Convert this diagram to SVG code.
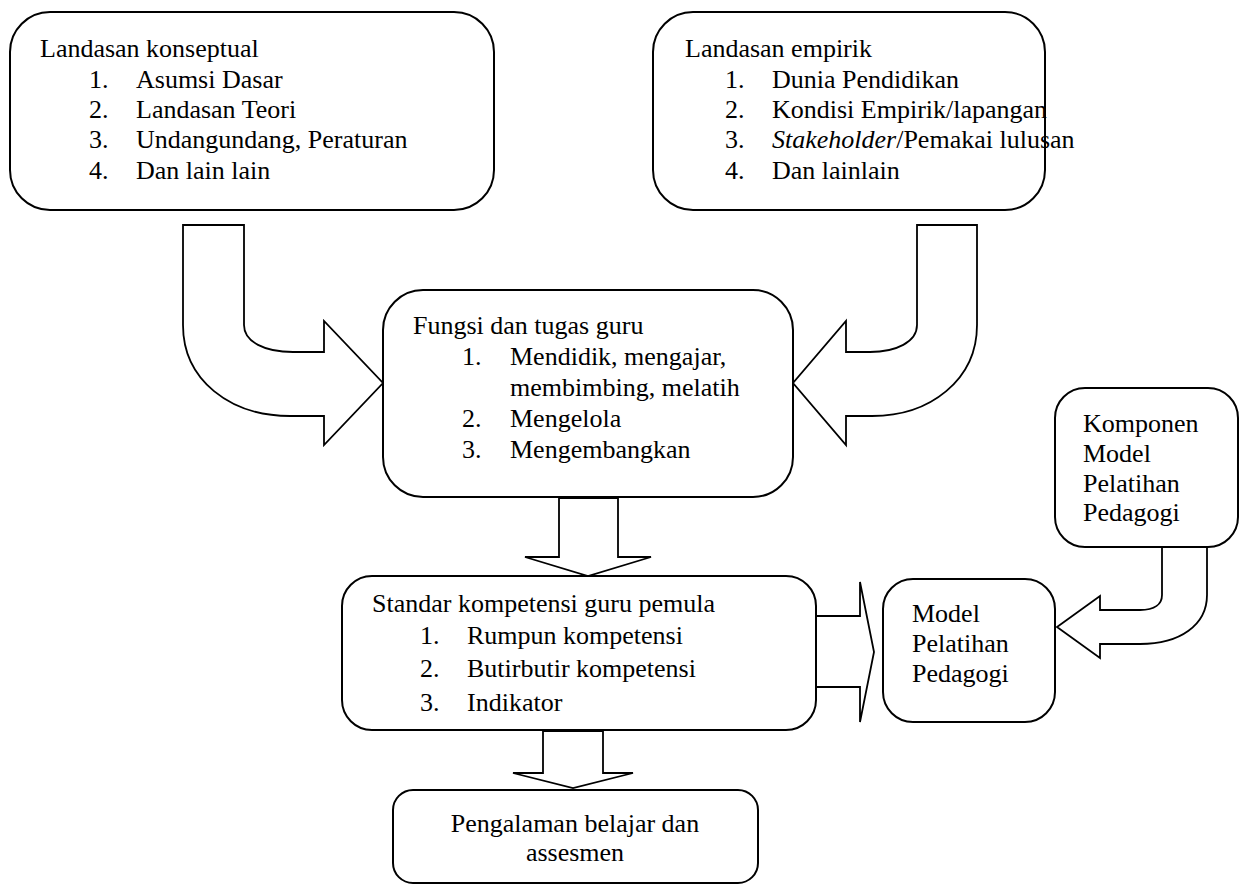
<svg xmlns="http://www.w3.org/2000/svg" width="1249" height="884" viewBox="0 0 1249 884">
<style>
.box{fill:#fff;stroke:#000;stroke-width:2}
.arr{fill:#fff;stroke:#000;stroke-width:1.8;stroke-linejoin:miter}
text{font-family:"Liberation Serif","Times New Roman",Times,Tinos,"Nimbus Roman","Nimbus Roman No9 L",FreeSerif,"Noto Serif","DejaVu Serif",serif;font-size:26px;fill:#000}
</style>
<rect width="1249" height="884" fill="#fff"/>
<g id="connectors">
<path class="arr" d="M183,225 L244,225 L244,325 C244,342 265,352 293,352 L324,352 L324,321 L383,383 L324,445 L324,416 L290,416 C230,416 183,380 183,325 Z"/>
<path class="arr" d="M977,225 L917,225 L917,325 C917,342 896,352 870,352 L846,352 L846,321 L793,383 L846,445 L846,416 L872,416 C930,416 977,380 977,325 Z"/>
<path class="arr" d="M559,498 L618,498 L618,557 L651,557 L588,576 L525,557 L559,557 Z"/>
<path class="arr" d="M543,731 L603,731 L603,773 L633,773 L573,788 L513,773 L543,773 Z"/>
<path class="arr" d="M816,616 L860,616 L860,582 L874,652 L860,722 L860,687 L816,687 Z"/>
<path class="arr" d="M1162,547 L1207,547 L1207,595 C1207,625 1180,644 1140,644 L1100,644 L1100,658 L1057,627 L1100,596 L1100,610 L1140,610 C1155,610 1162,604 1162,595 Z"/>
</g>
<g id="node-konseptual">
<rect class="box" x="10" y="12" width="484" height="198" rx="40"/>
<text x="40" y="57">Landasan konseptual</text>
<text x="89" y="88">1.</text><text x="136" y="88">Asumsi Dasar</text>
<text x="89" y="118">2.</text><text x="136" y="118">Landasan Teori</text>
<text x="89" y="148">3.</text><text x="136" y="148">Undangundang, Peraturan</text>
<text x="89" y="179">4.</text><text x="136" y="179">Dan lain lain</text>
</g>
<g id="node-empirik">
<rect class="box" x="653" y="12" width="392" height="198" rx="40"/>
<text x="685" y="57">Landasan empirik</text>
<text x="725" y="88">1.</text><text x="772" y="88">Dunia Pendidikan</text>
<text x="725" y="118">2.</text><text x="772" y="118">Kondisi Empirik/lapangan</text>
<text x="725" y="148">3.</text><text x="772" y="148"><tspan font-style="italic">Stakeholder</tspan>/Pemakai lulusan</text>
<text x="725" y="179">4.</text><text x="772" y="179">Dan lainlain</text>
</g>
<g id="node-fungsi">
<rect class="box" x="383" y="290" width="410" height="207" rx="40"/>
<text x="413" y="334">Fungsi dan tugas guru</text>
<text x="462" y="365">1.</text><text x="510" y="365">Mendidik, mengajar,</text>
<text x="510" y="396">membimbing, melatih</text>
<text x="462" y="427">2.</text><text x="510" y="427">Mengelola</text>
<text x="462" y="458">3.</text><text x="510" y="458">Mengembangkan</text>
</g>
<g id="node-standar">
<rect class="box" x="342" y="576" width="474" height="154" rx="30"/>
<text x="372" y="612">Standar kompetensi guru pemula</text>
<text x="420" y="644">1.</text><text x="467" y="644">Rumpun kompetensi</text>
<text x="420" y="677">2.</text><text x="467" y="677">Butirbutir kompetensi</text>
<text x="420" y="711">3.</text><text x="467" y="711">Indikator</text>
</g>
<g id="node-pengalaman">
<rect class="box" x="393" y="790" width="365" height="93" rx="20"/>
<text x="575" y="832" text-anchor="middle">Pengalaman belajar dan</text>
<text x="575" y="861" text-anchor="middle">assesmen</text>
</g>
<g id="node-model">
<rect class="box" x="883" y="579" width="172" height="143" rx="30"/>
<text x="912" y="622">Model</text>
<text x="912" y="652">Pelatihan</text>
<text x="912" y="682">Pedagogi</text>
</g>
<g id="node-komponen">
<rect class="box" x="1055" y="388" width="183" height="159" rx="30"/>
<text x="1083" y="432">Komponen</text>
<text x="1083" y="462">Model</text>
<text x="1083" y="492">Pelatihan</text>
<text x="1083" y="521">Pedagogi</text>
</g>
</svg>
